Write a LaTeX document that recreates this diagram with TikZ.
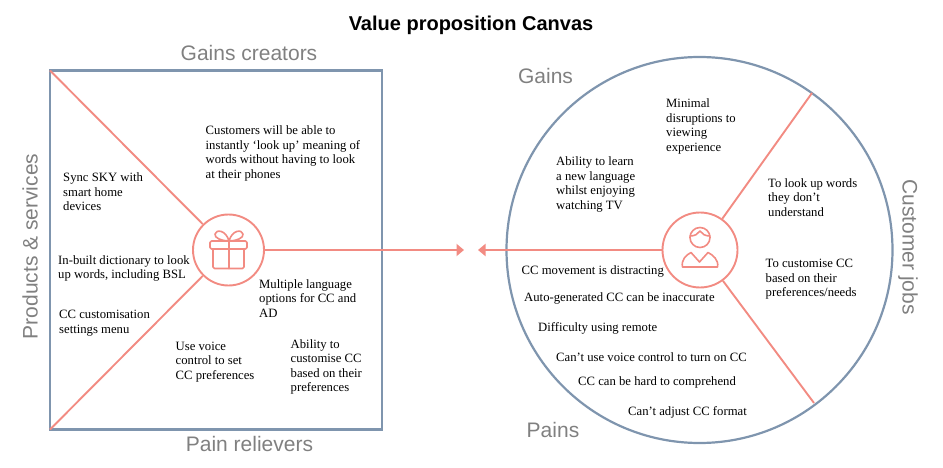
\documentclass[tikz,border=0pt]{standalone}
\usepackage{fontspec}
\setmainfont{Liberation Serif}
\newfontfamily\headfont{Liberation Sans}
\usetikzlibrary{arrows.meta,shapes.geometric}
\definecolor{salmon}{HTML}{F28B82}
\definecolor{slateb}{HTML}{7F95AE}
\definecolor{greyt}{HTML}{808080}
\tikzset{
 x=1pt,y=-1pt,
 frame/.style={draw=slateb,line width=2.2pt},
 conn/.style={draw=salmon,line width=1.9pt},
 arr/.style={conn,-{Triangle[length=7.5pt,width=12pt]}},
 hubl/.style={circle,draw=salmon,line width=1.9pt,minimum size=71pt,inner sep=0pt},
 hubr/.style={circle,draw=salmon,line width=1.9pt,minimum size=75pt,inner sep=0pt},
 head/.style={font=\headfont\fontsize{21}{23}\selectfont\color{greyt},inner sep=0pt},
 txt/.style={font=\fontsize{12.7}{14.5}\selectfont,align=left,anchor=north west,inner sep=0pt},
 icon/.style={draw=salmon,line width=1.6pt,line join=round,line cap=round},
}
\begin{document}
\begin{tikzpicture}
\useasboundingbox (0,0) rectangle (943,468);
\node[font=\headfont\bfseries\fontsize{20}{22}\selectfont,inner sep=0pt] (title) at (471,25) {Value proposition Canvas};
\node[frame,minimum width=332pt,minimum height=359pt,inner sep=0pt] (sq) at (216,250) {};
\node[frame,circle,minimum size=386pt,inner sep=0pt] (ci) at (699.5,250) {};
\coordinate (c1) at (50,70.5);
\coordinate (c2) at (50,429.5);
\coordinate (c3) at (812,93);
\coordinate (c4) at (814,403);
\coordinate (al) at (464,250);
\coordinate (ar) at (478,250);
\node[hubl] (hl) at (228.5,250) {};
\node[hubr] (hr) at (700,250) {};
\draw[conn] (hl) -- (c1);
\draw[conn] (hl) -- (c2);
\draw[arr] (hl.east) -- (al);
\draw[arr] (hr.west) -- (ar);
\draw[conn] (hr) -- (c3);
\draw[conn] (hr) -- (c4);
% gift icon
\draw[icon,rounded corners=1.5pt] (210,241) rectangle (247,249);
\draw[icon,rounded corners=1.5pt] (213,249) -- (213,268.5) -- (244,268.5) -- (244,249);
\draw[icon] (229,241) -- (229,268.5);
\draw[icon] (229,241) .. controls (222,241) and (214,238) .. (215,234) .. controls (216,229) and (226,230) .. (229,241);
\draw[icon] (229,241) .. controls (236,241) and (244,238) .. (243,234) .. controls (242,229) and (232,230) .. (229,241);
% person icon
\draw[icon] (700,237.5) circle[radius=10];
\draw[icon] (690,236) .. controls (695,236) and (698,234) .. (700,231) .. controls (702,234) and (705,236) .. (710,236);
\draw[icon] (682.5,267) .. controls (681,260) and (686,255) .. (691,252.5) -- (699.5,262) -- (708,252.5) .. controls (713,255) and (719,260) .. (717.5,267) -- cycle;
% headings
\node[head] (h1) at (249,53) {Gains creators};
\node[head] (h2) at (249.5,444) {Pain relievers};
\node[head,rotate=90] (h3) at (30,246.5) {Products \& services};
\node[head] (h4) at (545.5,76) {Gains};
\node[head] (h5) at (553,430) {Pains};
\node[head,rotate=-90] (h6) at (908,247) {Customer jobs};
% left text
\node[txt] (t1) at (205.5,125.5) {Customers will be able to\\instantly ‘look up’ meaning of\\words without having to look\\at their phones};
\node[txt] (t2) at (63,172.5) {Sync SKY with\\smart home\\devices};
\node[txt] (t3) at (58,255) {In-built dictionary to look\\up words, including BSL};
\node[txt] (t4) at (59,310) {CC customisation\\settings menu};
\node[txt] (t5) at (175.5,341.5) {Use voice\\control to set\\CC preferences};
\node[txt] (t6) at (290.5,339) {Ability to\\customise CC\\based on their\\preferences};
\node[txt] (t7) at (259,279) {Multiple language\\options for CC and\\AD};
% right text
\node[txt] (t8) at (666,98.5) {Minimal\\disruptions to\\viewing\\experience};
\node[txt] (t9) at (556,156.5) {Ability to learn\\a new language\\whilst enjoying\\watching TV};
\node[txt] (t10) at (768,178) {To look up words\\they don’t\\understand};
\node[txt] (t11) at (765.5,259) {To customise CC\\based on their\\preferences/needs};
\node[txt] (t12) at (521.5,265) {CC movement is distracting};
\node[txt] (t13) at (524,292.5) {Auto-generated CC can be inaccurate};
\node[txt] (t14) at (538,322.5) {Difficulty using remote};
\node[txt] (t15) at (556,352.5) {Can’t use voice control to turn on CC};
\node[txt] (t16) at (578,376.5) {CC can be hard to comprehend};
\node[txt] (t17) at (628,406) {Can’t adjust CC format};
\end{tikzpicture}
\end{document}
